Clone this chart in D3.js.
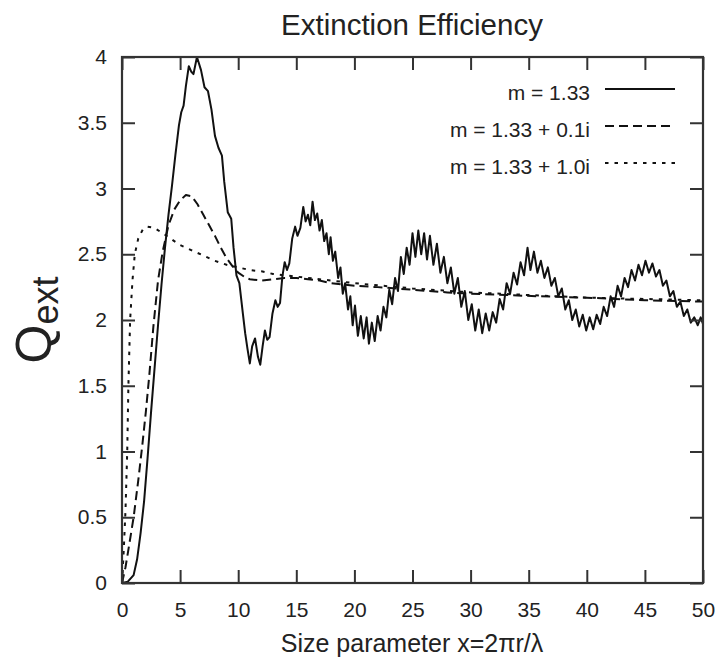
<!DOCTYPE html>
<html>
<head>
<meta charset="utf-8">
<script src="https://cdn.jsdelivr.net/npm/d3@7"></script>
<style>
  html, body { margin: 0; padding: 0; background: #fff; }
  svg { display: block; }
  text { font-family: "Liberation Sans", Arial, Helvetica, sans-serif; fill: #222; }
</style>
</head>
<body>
<svg id="chart" width="719" height="658"></svg>
<script>
// ---------------- data ----------------
const title = "Extinction Efficiency";
const xLabel = "Size parameter x=2\u03c0r/\u03bb";
const seriesNames = ["m = 1.33", "m = 1.33 + 0.1i", "m = 1.33 + 1.0i"];
const xTicks = [0, 5, 10, 15, 20, 25, 30, 35, 40, 45, 50];
const yTicks = [0, 0.5, 1, 1.5, 2, 2.5, 3, 3.5, 4];

// m = 1.33 (solid, with ripple structure)
const solid = [
  [0,0],[0.5,0.01],[1.0,0.06],[1.3,0.18],[1.6,0.38],[1.9,0.62],[2.2,0.95],[2.5,1.3],
  [2.8,1.63],[3.1,1.96],[3.4,2.27],[3.7,2.55],[4.0,2.8],[4.3,3.02],[4.6,3.26],[4.9,3.48],
  [5.1,3.58],[5.3,3.63],[5.5,3.78],[5.75,3.93],[5.95,3.89],[6.15,3.87],[6.45,4.0],[6.8,3.9],
  [7.1,3.77],[7.4,3.74],[7.7,3.6],[8.0,3.4],[8.3,3.31],[8.6,3.25],[8.8,3.05],[9.1,2.82],
  [9.4,2.77],[9.6,2.55],[9.85,2.34],[10.1,2.28],[10.4,2.05],[10.6,1.9],[10.8,1.78],[11.0,1.67],
  [11.2,1.8],[11.45,1.86],[11.7,1.72],[11.9,1.66],[12.1,1.8],[12.3,1.92],[12.5,1.85],[12.7,1.87],
  [12.95,2.05],[13.2,2.15],[13.4,2.1],[13.6,2.13],[13.8,2.33],[14.0,2.44],[14.2,2.38],[14.4,2.43],
  [14.65,2.62],[14.9,2.71],[15.1,2.64],[15.35,2.7],[15.6,2.86],[15.8,2.75],[16.0,2.8],[16.2,2.72],
  [16.4,2.9],[16.6,2.76],[16.8,2.81],[17.0,2.68],[17.2,2.76],[17.4,2.6],[17.6,2.66],[17.8,2.5],
  [17.95,2.63],[18.15,2.45],[18.35,2.52],[18.6,2.32],[18.8,2.4],[19.0,2.2],[19.2,2.28],[19.45,2.08],
  [19.65,2.18],[19.85,1.96],[20.05,2.11],[20.3,1.88],[20.55,2.03],[20.8,1.86],[21.05,2.02],[21.25,1.82],
  [21.5,1.98],[21.75,1.84],[22.0,2.03],[22.25,1.92],[22.5,2.1],[22.75,2.02],[23.0,2.23],[23.25,2.12],
  [23.5,2.32],[23.75,2.22],[24.0,2.48],[24.25,2.35],[24.5,2.55],[24.75,2.42],[25.0,2.66],[25.25,2.48],
  [25.5,2.68],[25.75,2.5],[26.0,2.66],[26.25,2.46],[26.5,2.64],[26.8,2.42],[27.1,2.58],[27.4,2.36],
  [27.7,2.48],[28.0,2.28],[28.3,2.4],[28.6,2.2],[28.9,2.32],[29.2,2.1],[29.5,2.22],[29.8,2.0],
  [30.1,2.12],[30.4,1.92],[30.7,2.08],[31.0,1.9],[31.3,2.05],[31.6,1.92],[31.9,2.06],[32.2,1.98],
  [32.5,2.16],[32.8,2.08],[33.1,2.28],[33.4,2.2],[33.7,2.36],[34.0,2.27],[34.3,2.44],[34.6,2.34],
  [34.9,2.55],[35.15,2.38],[35.45,2.52],[35.75,2.36],[36.05,2.45],[36.35,2.32],[36.65,2.4],[36.95,2.26],
  [37.25,2.32],[37.55,2.18],[37.85,2.24],[38.15,2.08],[38.45,2.15],[38.75,2.0],[39.05,2.08],[39.35,1.95],
  [39.65,2.04],[39.95,1.92],[40.25,2.02],[40.55,1.93],[40.85,2.04],[41.15,1.97],[41.45,2.1],[41.75,2.03],
  [42.05,2.18],[42.35,2.1],[42.65,2.26],[42.95,2.18],[43.25,2.32],[43.55,2.25],[43.85,2.38],[44.15,2.3],
  [44.45,2.42],[44.75,2.34],[45.05,2.45],[45.35,2.36],[45.65,2.43],[45.95,2.33],[46.25,2.38],[46.55,2.26],
  [46.85,2.3],[47.15,2.18],[47.45,2.22],[47.75,2.1],[48.05,2.14],[48.35,2.03],[48.65,2.08],[48.95,1.98],
  [49.25,2.02],[49.55,1.96],[49.8,2.02],[50,1.97]
];

// m = 1.33 + 0.1i (dashed)
const dashed = [
  [0,0],[0.3,0.12],[0.6,0.28],[1.0,0.5],[1.4,0.78],[1.75,1.05],[2.05,1.3],[2.35,1.58],
  [2.7,1.95],[3.1,2.3],[3.5,2.52],[4.0,2.72],[4.5,2.84],[5.0,2.91],[5.5,2.95],[6.0,2.94],
  [6.5,2.88],[7.0,2.8],[7.5,2.72],[8.0,2.64],[8.5,2.55],[9.0,2.47],[9.5,2.41],[10.0,2.36],
  [10.5,2.33],[11.0,2.31],[12.0,2.3],[13.0,2.31],[14.0,2.32],[15.0,2.32],[16.0,2.31],[17.0,2.3],
  [18.0,2.28],[20.0,2.26],[22.0,2.25],[25.0,2.23],[28.0,2.21],[30.0,2.2],[33.0,2.19],[36.0,2.18],
  [40.0,2.17],[45.0,2.15],[50.0,2.14]
];

// m = 1.33 + 1.0i (dotted)
const dotted = [
  [0,0],[0.15,0.25],[0.3,0.55],[0.45,1.0],[0.55,1.5],[0.7,2.0],[0.9,2.3],[1.1,2.5],
  [1.4,2.62],[1.8,2.69],[2.2,2.71],[2.8,2.7],[3.5,2.66],[4.0,2.63],[5.0,2.57],[6.0,2.53],
  [7.0,2.49],[8.0,2.45],[9.0,2.42],[10.0,2.4],[11.0,2.38],[12.0,2.37],[13.0,2.35],[14.0,2.34],
  [15.0,2.33],[17.0,2.31],[20.0,2.28],[25.0,2.24],[30.0,2.21],[35.0,2.19],[40.0,2.17],[45.0,2.16],
  [50.0,2.15]
];

// ---------------- drawing ----------------
const W = 719, H = 658;
const margin = { left: 122, top: 57, right: 16, bottom: 75 };
const pw = W - margin.left - margin.right;   // 581
const ph = H - margin.top - margin.bottom;   // 526

const svg = d3.select("#chart");
const g = svg.append("g").attr("transform", `translate(${margin.left},${margin.top})`);

const x = d3.scaleLinear().domain([0, 50]).range([0, pw]);
const y = d3.scaleLinear().domain([0, 4]).range([ph, 0]);

const axisColor = "#333";
const tickLen = 13;

g.append("defs").append("clipPath").attr("id", "clip")
  .append("rect").attr("x", 0).attr("y", -1).attr("width", pw).attr("height", ph + 1);

// series lines
const line = d3.line().x(d => x(d[0])).y(d => y(d[1]));
const styles = [
  { data: solid,  dash: null },
  { data: dashed, dash: "9,5" },
  { data: dotted, dash: "3.5,6" }
];
const lines = g.append("g").attr("clip-path", "url(#clip)");
styles.forEach(s => {
  lines.append("path")
    .datum(s.data)
    .attr("d", line)
    .attr("fill", "none")
    .attr("stroke", "#111")
    .attr("stroke-width", 2)
    .attr("stroke-linejoin", "round")
    .attr("stroke-dasharray", s.dash);
});

// axes
function styleAxis(sel) {
  sel.select(".domain").remove();
  sel.selectAll(".tick line").attr("stroke", axisColor).attr("stroke-width", 2);
  sel.selectAll(".tick text").style("font-size", "21px").attr("fill", "#222");
}
g.append("g").attr("transform", `translate(0,${ph})`)
  .call(d3.axisBottom(x).tickValues(xTicks).tickSize(-tickLen).tickPadding(19).tickFormat(d3.format("d")))
  .call(styleAxis);
g.append("g")
  .call(d3.axisLeft(y).tickValues(yTicks).tickSize(-tickLen).tickPadding(15).tickFormat(d => d))
  .call(styleAxis);
g.append("g")
  .call(d3.axisTop(x).tickValues(xTicks).tickSize(-tickLen).tickFormat(""))
  .call(styleAxis);
g.append("g").attr("transform", `translate(${pw},0)`)
  .call(d3.axisRight(y).tickValues(yTicks).tickSize(-tickLen).tickFormat(""))
  .call(styleAxis);

// frame
g.append("rect").attr("x", 0).attr("y", 0).attr("width", pw).attr("height", ph)
  .attr("fill", "none").attr("stroke", axisColor).attr("stroke-width", 2.2);

// legend
const legend = g.append("g");
const legY = [89, 126, 163];
styles.forEach((s, i) => {
  const ly = legY[i] - margin.top;
  legend.append("text")
    .attr("x", 590 - margin.left).attr("y", ly + 11)
    .attr("text-anchor", "end")
    .style("font-size", "21px")
    .text(seriesNames[i]);
  legend.append("line")
    .attr("x1", 605 - margin.left).attr("x2", 675 - margin.left)
    .attr("y1", ly).attr("y2", ly)
    .attr("stroke", "#111").attr("stroke-width", 2)
    .attr("stroke-dasharray", s.dash);
});

// title
svg.append("text")
  .attr("x", 412).attr("y", 35)
  .attr("text-anchor", "middle")
  .style("font-size", "29.5px")
  .text(title);

// x label
svg.append("text")
  .attr("x", 412).attr("y", 652)
  .attr("text-anchor", "middle")
  .style("font-size", "25px")
  .text(xLabel);

// y label: Q_ext
const yl = svg.append("text")
  .attr("transform", "translate(51,320) rotate(-90)")
  .attr("text-anchor", "middle");
yl.append("tspan").style("font-size", "50px").text("Q");
yl.append("tspan").style("font-size", "36px").attr("dy", 7).text("ext");
</script>
</body>
</html>
